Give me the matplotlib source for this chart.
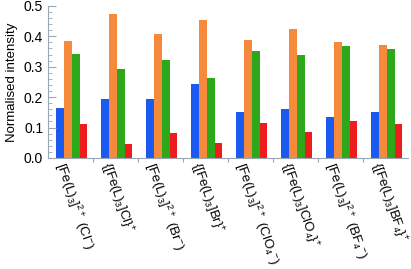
import matplotlib
matplotlib.use("Agg")
from matplotlib import pyplot as plt
import numpy as np

plt.rcParams['font.family'] = ['Liberation Sans', 'DejaVu Sans']
plt.rcParams['mathtext.fontset'] = 'custom'
plt.rcParams['mathtext.rm'] = 'Liberation Sans'
plt.rcParams['mathtext.it'] = 'Liberation Sans'

# data
labels = [r'[Fe(L)$_3$]$^{2+}$ (Cl$^{-}$)',
          r'{[Fe(L)$_3$]Cl}$^{+}$',
          r'[Fe(L)$_3$]$^{2+}$ (Br$^{-}$)',
          r'{[Fe(L)$_3$]Br}$^{+}$',
          r'[Fe(L)$_3$]$^{2+}$ (ClO$_4$$^{-}$)',
          r'{[Fe(L)$_3$]ClO$_4$}$^{+}$',
          r'[Fe(L)$_3$]$^{2+}$ (BF$_4$$^{-}$)',
          r'{[Fe(L)$_3$]BF$_4$}$^{+}$']
blue = [0.165, 0.193, 0.194, 0.244, 0.152, 0.161, 0.134, 0.150]
orange = [0.386, 0.472, 0.408, 0.453, 0.388, 0.425, 0.381, 0.371]
green = [0.341, 0.294, 0.322, 0.262, 0.352, 0.337, 0.367, 0.357]
red = [0.112, 0.045, 0.082, 0.048, 0.116, 0.084, 0.121, 0.112]

series = [blue, orange, green, red]
colors = ['#1a5af0', '#f58a3c', '#2ca81a', '#ee1c1c']

fig = plt.figure(figsize=(4.11, 2.69), dpi=100)
ax = fig.add_axes([0.117, 0.413, 0.876, 0.565])

x = np.arange(len(labels))
w = 0.175
for i, (vals, c) in enumerate(zip(series, colors)):
    ax.bar(x + (i - 1.5) * w + 0.025, vals, width=w, color=c, linewidth=0)

axcol = '#9aa6b2'
ax.set_xlim(-0.5, len(labels) - 0.5)
ax.set_ylim(0, 0.5)
for s in ['top', 'right']:
    ax.spines[s].set_visible(False)
for s in ['left', 'bottom']:
    ax.spines[s].set_color(axcol)

ax.set_yticks(np.arange(0, 0.51, 0.1))
ax.set_yticks(np.arange(0, 0.5, 0.02), minor=True)
ax.tick_params(axis='y', which='major', direction='in', length=6, color=axcol,
               labelsize=10)
ax.tick_params(axis='y', which='minor', direction='in', length=3, color=axcol)

ax.set_xticks(np.arange(0.5, len(labels) - 0.5, 1.0))
ax.tick_params(axis='x', which='major', direction='out', length=3, color=axcol,
               labelbottom=False)
ax.set_xticks(x - 0.06, labels, minor=True)
ax.tick_params(axis='x', which='minor', length=0, labelsize=9.5, pad=1.5)
for t in ax.get_xticklabels(minor=True):
    t.set_rotation(-71)
    t.set_rotation_mode('anchor')
    t.set_ha('left')
    t.set_va('top')

ax.set_ylabel('Normalised intensity', fontsize=9.5, labelpad=4)

fig.savefig('out.png', dpi=100)
